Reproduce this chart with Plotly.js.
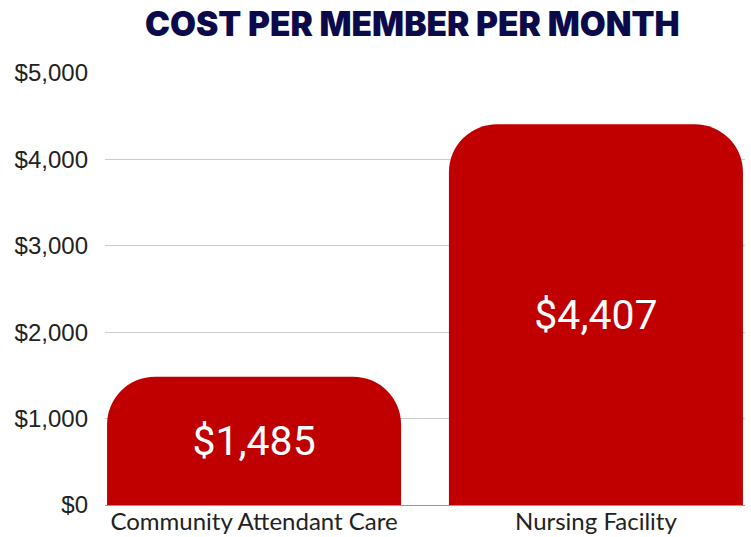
<!DOCTYPE html>
<html>
<head>
<meta charset="utf-8">
<script src="https://cdn.plot.ly/plotly-3.0.1.min.js"></script>
<style>
  html, body { margin: 0; padding: 0; background: #fff; }
  #chart { width: 751px; height: 537px; }
</style>
</head>
<body>
<div id="chart"></div>
<script>
// 資料
const categories = ['Community Attendant Care', 'Nursing Facility'];
const costValues = [1485, 4407];
const barLabels = ['$1,485', '$4,407'];
const yTicks = [0, 1000, 2000, 3000, 4000, 5000];
const yTickLabels = ['$0', '$1,000', '$2,000', '$3,000', '$4,000', '$5,000'];

const trace = {
  x: categories,
  y: costValues,
  type: 'bar',
  width: 0.86,
  marker: { color: '#c00000', cornerradius: 48 },
  text: barLabels,
  textposition: 'inside',
  insidetextanchor: 'middle',
  textfont: { family: 'Roboto, sans-serif', size: 41, color: '#ffffff' },
  constraintext: 'none',
  hoverinfo: 'skip'
};

const layout = {
  width: 751,
  height: 537,
  margin: { t: 73, b: 32, l: 105, r: 6 },
  paper_bgcolor: '#ffffff',
  plot_bgcolor: '#ffffff',
  showlegend: false,
  title: {
    text: 'COST PER MEMBER PER MONTH',
    font: { family: 'Inter, Lato, sans-serif', size: 33.5, weight: 900, color: '#0b0a4a' },
    xref: 'container', x: 0.549, xanchor: 'center',
    yref: 'container', y: 0.955, yanchor: 'middle'
  },
  xaxis: {
    type: 'category',
    range: [-0.436, 1.436],
    showgrid: false,
    showline: false,
    ticks: '',
    tickfont: { family: 'Lato, sans-serif', size: 24, color: '#222222' }
  },
  yaxis: {
    range: [0, 5000],
    tickvals: yTicks,
    ticktext: yTickLabels,
    showgrid: true,
    gridcolor: '#cccccc',
    gridwidth: 1,
    zeroline: true,
    zerolinecolor: '#999999',
    zerolinewidth: 1,
    ticks: '',
    ticklabelstandoff: 16,
    tickfont: { family: 'Liberation Sans, Arial, sans-serif', size: 24, color: '#222222' }
  }
};

Plotly.newPlot('chart', [trace], layout, { displayModeBar: false, staticPlot: true });
</script>
</body>
</html>
